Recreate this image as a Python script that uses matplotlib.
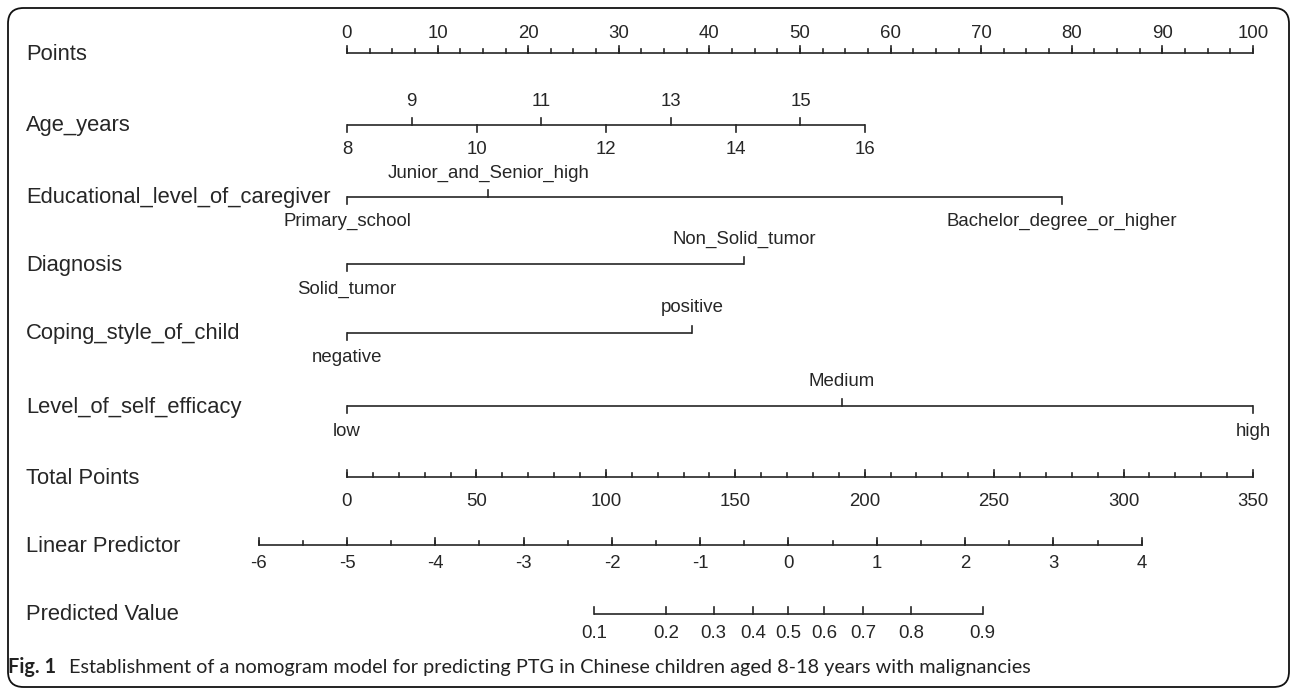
import numpy as np
import matplotlib
matplotlib.use("Agg")
import matplotlib.pyplot as plt
from matplotlib.patches import FancyBboxPatch

# nomogram data (points scale 0-100)
points_ticks = np.arange(0, 101, 10)
points_minor = np.arange(0, 100.1, 2.5)

age_values = [8, 9, 10, 11, 12, 13, 14, 15, 16]
age_max_points = 57.2

edu_levels = ["Primary_school", "Junior_and_Senior_high", "Bachelor_degree_or_higher"]
edu_points = [0, 15.6, 78.9]

diag_levels = ["Solid_tumor", "Non_Solid_tumor"]
diag_points = [0, 43.8]

coping_levels = ["negative", "positive"]
coping_points = [0, 38.1]

efficacy_levels = ["low", "Medium", "high"]
efficacy_points = [0, 54.6, 100]

total_ticks = np.arange(0, 351, 50)
total_minor = np.arange(0, 351, 10)
total_max = 350

lp_ticks = np.arange(-6, 5, 1)
lp_minor = np.arange(-6, 4.01, 0.5)
lp_at_zero_total = -5
lp_per_point = 9.746   # points-scale units per 1 unit of linear predictor

pred_values = [0.1, 0.2, 0.3, 0.4, 0.5, 0.6, 0.7, 0.8, 0.9]

row_names = ["Points", "Age_years", "Educational_level_of_caregiver", "Diagnosis",
             "Coping_style_of_child", "Level_of_self_efficacy", "Total Points",
             "Linear Predictor", "Predicted Value"]
row_y = [53, 125, 197, 264, 333, 406, 477, 545, 614]

caption_bold = "Fig. 1"
caption_text = "Establishment of a nomogram model for predicting PTG in Chinese children aged 8-18 years with malignancies"

# layout (pixel based figure)
W, H = 1292, 689
x0_px, px_per_pt = 347, 9.06
col = "#262626"
lw = 1.2
major_len, minor_len = 7, 4
lab_fs, tick_fs = 15.8, 13.4
font = ["Liberation Sans", "DejaVu Sans"]

fig = plt.figure(figsize=(W / 100, H / 100), dpi=100)
ax = fig.add_axes([0, 0, 1, 1])
ax.set_xlim(-x0_px / px_per_pt, (W - x0_px) / px_per_pt)
ax.set_ylim(H, 0)
ax.axis("off")


def lp_to_x(v):
    return (np.asarray(v, dtype=float) - lp_at_zero_total) * lp_per_point


def draw_row(y, xs, labels, up, minor=None, lab_off=22, lab_above=None):
    xs = np.asarray(xs, dtype=float)
    if lab_above is None:
        lab_above = up
    ax.plot([xs.min(), xs.max()], [y, y], color=col, lw=lw, solid_capstyle="butt")
    if minor is not None:
        for m in minor:
            ax.plot([m, m], [y, y - minor_len], color=col, lw=lw)
    for x, lab, u, a in zip(xs, labels, up, lab_above):
        d = -1 if u else 1
        ax.plot([x, x], [y, y + d * major_len], color=col, lw=lw)
        s = -1 if a else 1
        ax.text(x, y + s * lab_off, lab, ha="center", va="center",
                fontsize=tick_fs, color=col, family=font)


# Points
n = len(points_ticks)
draw_row(row_y[0], points_ticks, [str(v) for v in points_ticks], [True] * n,
         minor=points_minor, lab_off=20)
# Age
age_x = [(a - age_values[0]) / (age_values[-1] - age_values[0]) * age_max_points for a in age_values]
draw_row(row_y[1], age_x, [str(a) for a in age_values], [a % 2 == 1 for a in age_values], lab_off=24)
# categorical rows
draw_row(row_y[2], edu_points, edu_levels, [False, True, False], lab_off=24)
draw_row(row_y[3], diag_points, diag_levels, [False, True], lab_off=25)
draw_row(row_y[4], coping_points, coping_levels, [False, True], lab_off=25)
draw_row(row_y[5], efficacy_points, efficacy_levels, [False, True, False], lab_off=25)
# Total points
tp_scale = 100 / total_max
n = len(total_ticks)
draw_row(row_y[6], total_ticks * tp_scale, [str(v) for v in total_ticks], [True] * n,
         minor=total_minor * tp_scale, lab_off=24, lab_above=[False] * n)
# Linear predictor
n = len(lp_ticks)
draw_row(row_y[7], lp_to_x(lp_ticks), [str(v) for v in lp_ticks], [True] * n,
         minor=lp_to_x(lp_minor), lab_off=19, lab_above=[False] * n)
# Predicted value
pv = np.array(pred_values)
n = len(pred_values)
draw_row(row_y[8], lp_to_x(np.log(pv / (1 - pv))), [f"{v:g}" for v in pred_values],
         [True] * n, lab_off=20, lab_above=[False] * n)

# row labels
for name, y in zip(row_names, row_y):
    ax.text(26 / px_per_pt - x0_px / px_per_pt, y + 1, name, ha="left", va="center",
            fontsize=lab_fs, color=col, family=font)

# caption
fig.text(8 / W, 1 - 667 / H, caption_bold, fontsize=14.3, fontweight="bold",
         family=["Lato", "DejaVu Sans"], color="#222222", va="center", ha="left")
fig.text(69 / W, 1 - 667 / H, caption_text, fontsize=14.3,
         family=["Lato", "DejaVu Sans"], color="#222222", va="center", ha="left")

# rounded frame
frame = FancyBboxPatch((8 / W, 1 - 687 / H), (1289 - 8) / W, (687 - 8) / H,
                       boxstyle="round,pad=0,rounding_size=0.012",
                       transform=fig.transFigure, fill=False, ec="#111111", lw=1.3,
                       mutation_aspect=W / H)
fig.patches.append(frame)

fig.savefig("out.png", dpi=100)
